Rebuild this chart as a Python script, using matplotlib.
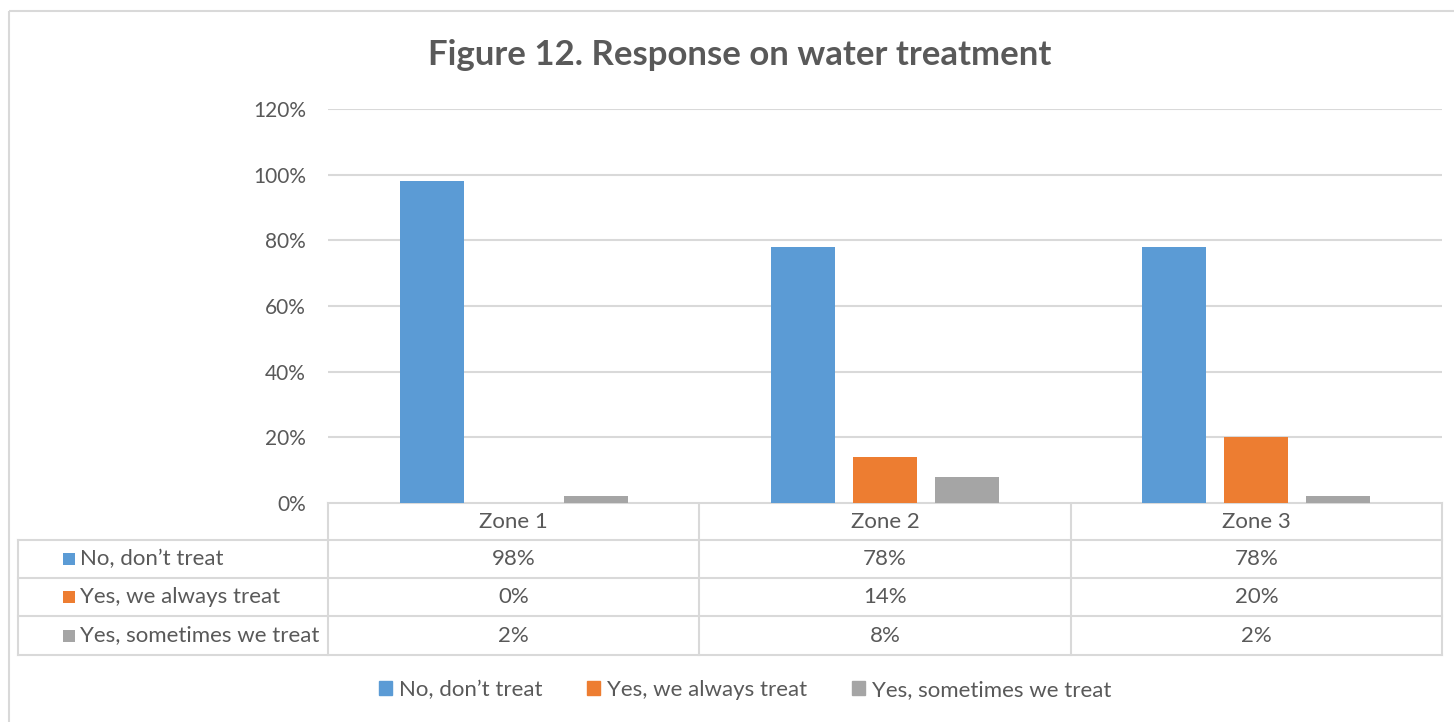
import matplotlib.pyplot as plt
from matplotlib.patches import Rectangle
import numpy as np

plt.rcParams['font.family'] = ['Lato', 'DejaVu Sans']

zones = ['Zone 1', 'Zone 2', 'Zone 3']
series = ['No, don\u2019t treat', 'Yes, we always treat', 'Yes, sometimes we treat']
no_treat = [0.98, 0.78, 0.78]
always_treat = [0.00, 0.14, 0.20]
sometimes_treat = [0.02, 0.08, 0.02]
yticks = [0, 0.2, 0.4, 0.6, 0.8, 1.0, 1.2]
title = 'Figure 12. Response on water treatment'

colors = ['#5B9BD5', '#ED7D31', '#A5A5A5']
txt = '#595959'
grid = '#D9D9D9'

W, H = 1454, 722
fig = plt.figure(figsize=(W / 100, H / 100), dpi=100)

# overlay in pixel coords for border + data table
ov = fig.add_axes([0, 0, 1, 1])
ov.set_xlim(0, W)
ov.set_ylim(H, 0)
ov.axis('off')
ov.add_patch(Rectangle((9, 11), W + 20, H + 20, fill=False, ec=grid, lw=1.5))

# plot area
x0, x1, ytop, ybot = 328, 1442, 109, 503
ax = fig.add_axes([x0 / W, (H - ybot) / H, (x1 - x0) / W, (ybot - ytop) / H])
x = np.arange(len(zones))
bw = 0.1725
off = 0.221
for i, (vals, c) in enumerate(zip([no_treat, always_treat, sometimes_treat], colors)):
    ax.bar(x + (i - 1) * off, vals, bw, color=c, zorder=3, label=series[i])
ax.set_xlim(-0.5, len(zones) - 0.5)
ax.set_ylim(0, 1.2)
ax.set_yticks(yticks)
ax.set_yticklabels([f'{int(round(v * 100))}%' for v in yticks])
ax.yaxis.grid(True, color=grid, lw=1.5, zorder=0)
ax.set_xticks([])
for s in ax.spines.values():
    s.set_visible(False)
ax.tick_params(axis='y', length=0, pad=16, labelsize=15, labelcolor=txt)

fig.text(740 / W, 1 - 55 / H, title, ha='center', va='center', fontsize=25,
         fontweight='bold', color=txt)

# data table
cols = [328, 699, 1071, 1442]
rows = [503, 540, 578, 616, 655]
lc = grid
lw = 1.5
ov.plot([cols[0], cols[-1]], [rows[0], rows[0]], color=lc, lw=lw)
for r in rows[1:]:
    ov.plot([18, cols[-1]], [r, r], color=lc, lw=lw)
for c in cols:
    ov.plot([c, c], [rows[0], rows[-1]], color=lc, lw=lw)
ov.plot([18, 18], [rows[1], rows[-1]], color=lc, lw=lw)

fs = 16
for j, z in enumerate(zones):
    cx = (cols[j] + cols[j + 1]) / 2
    ov.text(cx, (rows[0] + rows[1]) / 2, z, ha='center', va='center', fontsize=fs, color=txt)
for i, vals in enumerate([no_treat, always_treat, sometimes_treat]):
    cy = (rows[i + 1] + rows[i + 2]) / 2
    ov.add_patch(Rectangle((63, cy - 6), 12, 12, color=colors[i], lw=0))
    ov.text(80, cy, series[i], ha='left', va='center', fontsize=fs, color=txt)
    for j, v in enumerate(vals):
        cx = (cols[j] + cols[j + 1]) / 2
        ov.text(cx, cy, f'{int(round(v * 100))}%', ha='center', va='center', fontsize=fs, color=txt)

# legend
handles = [Rectangle((0, 0), 1, 1, color=c) for c in colors]
fig.legend(handles, series, loc='center', bbox_to_anchor=(745 / W, 1 - 690 / H), ncol=3,
           frameon=False, fontsize=fs, labelcolor=txt, handlelength=0.6, handleheight=0.6,
           handletextpad=0.3, columnspacing=2.0)

fig.savefig('out.png', dpi=100)
